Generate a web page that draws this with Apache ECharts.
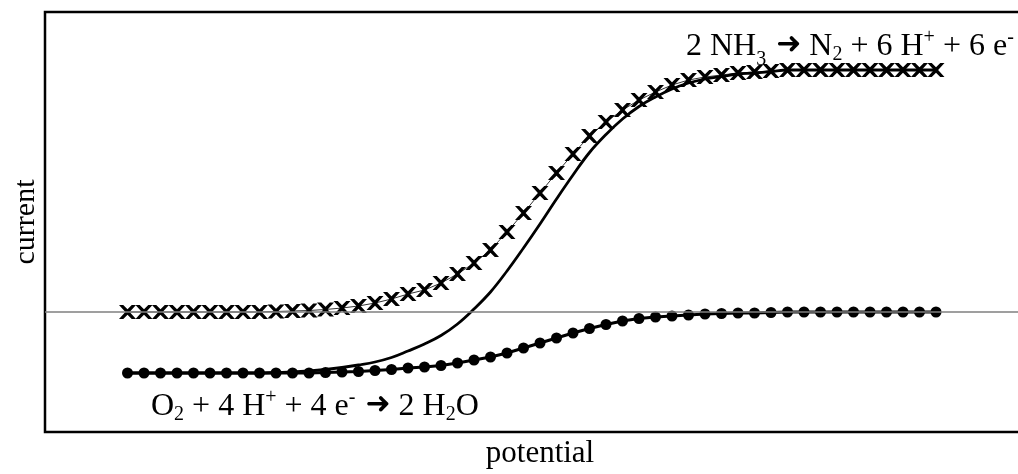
<!DOCTYPE html>
<html>
<head>
<meta charset="utf-8">
<script src="https://cdn.jsdelivr.net/npm/echarts@6/dist/echarts.min.js"></script>
<style>
  html, body { margin: 0; padding: 0; background: #fff; }
  #chart { width: 1018px; height: 474px; }
</style>
</head>
<body>
<div id="chart"></div>
<script>
// anodic wave (crosses): 2 NH3 -> N2 + 6 H+ + 6 e-
const anodic = [
  0, 0, 0, 0, 0, 0, 0, 0, 0, 0.005,
  0.01, 0.015, 0.025, 0.04, 0.06, 0.09, 0.13, 0.18, 0.22, 0.29,
  0.38, 0.49, 0.62, 0.80, 0.99, 1.19, 1.39, 1.58, 1.76, 1.90,
  2.02, 2.12, 2.20, 2.27, 2.32, 2.35, 2.37, 2.39, 2.40, 2.41,
  2.42, 2.42, 2.42, 2.42, 2.42, 2.42, 2.42, 2.42, 2.42, 2.42
];
// cathodic wave (dots): O2 + 4 H+ + 4 e- -> 2 H2O
const cathodic = [
  -0.61, -0.61, -0.61, -0.61, -0.61, -0.61, -0.61, -0.61, -0.61, -0.61,
  -0.61, -0.61, -0.605, -0.60, -0.595, -0.585, -0.575, -0.56, -0.55, -0.535,
  -0.51, -0.48, -0.45, -0.41, -0.36, -0.31, -0.26, -0.21, -0.165, -0.125,
  -0.09, -0.065, -0.05, -0.04, -0.03, -0.02, -0.015, -0.01, -0.01, -0.005,
  0, 0, 0, 0, 0, 0, 0, 0, 0, 0
];
// measured (mixed) current, solid line
const measured = [
  -0.61, -0.61, -0.61, -0.61, -0.61, -0.61, -0.61, -0.61, -0.61, -0.605,
  -0.60, -0.59, -0.575, -0.555, -0.53, -0.50, -0.455, -0.39, -0.32, -0.235,
  -0.12, 0.03, 0.20, 0.41, 0.64, 0.88, 1.13, 1.37, 1.595, 1.775,
  1.93, 2.055, 2.15, 2.23, 2.29, 2.33, 2.355, 2.38, 2.39, 2.405,
  2.42, 2.42, 2.42, 2.42, 2.42, 2.42, 2.42, 2.42, 2.42, 2.42
];

const serif = '"Liberation Serif", "DejaVu Serif", serif';
const crossPath = 'path://M0,0 L4,0 L8,4 L12,0 L16,0 L10,6.5 L16,13 L12,13 L8,9 L4,13 L0,13 L6,6.5 Z';

const richStyles = {
  b: { fontFamily: serif, fontSize: 32, lineHeight: 40, color: '#000' },
  sub: { fontFamily: serif, fontSize: 20, lineHeight: 20, padding: [15, 0, 0, 0], color: '#000' },
  sub3: { fontFamily: serif, fontSize: 20, lineHeight: 20, padding: [25, 0, 0, 0], color: '#000' },
  sup: { fontFamily: serif, fontSize: 20, lineHeight: 20, padding: [0, 0, 19, 0], color: '#000' },
  arr: { fontFamily: '"DejaVu Sans", sans-serif', fontSize: 30, lineHeight: 30, padding: [0, 0, 4, 2], color: '#000' }
};

const chart = echarts.init(document.getElementById('chart'));
const option = {
  animation: false,
  grid: {
    left: 45, right: -17, top: 12, bottom: 42,
    outerBoundsMode: 'none',
    show: true, borderColor: '#000', borderWidth: 2.5
  },
  xAxis: {
    type: 'value', min: -5, max: 55,
    name: 'potential', nameLocation: 'middle', nameGap: 6,
    nameTextStyle: { fontFamily: serif, fontSize: 31, color: '#000' },
    axisLine: { show: false }, axisTick: { show: false },
    axisLabel: { show: false }, splitLine: { show: false }
  },
  yAxis: {
    type: 'value', min: -1.2, max: 3.0,
    name: 'current', nameLocation: 'middle', nameGap: 4, nameRotate: 90,
    nameTextStyle: { fontFamily: serif, fontSize: 30, color: '#000' },
    axisLine: { show: false }, axisTick: { show: false },
    axisLabel: { show: false }, splitLine: { show: false }
  },
  graphic: [
    {
      type: 'text', x: 686, y: 47,
      style: {
        text: '{b|2 NH}{sub3|3}{b| }{arr|➜}{b| N}{sub|2}{b| + 6 H}{sup|+}{b| + 6 e}{sup|-}',
        rich: richStyles, verticalAlign: 'middle', align: 'left'
      }
    },
    {
      type: 'text', x: 151, y: 407,
      style: {
        text: '{b|O}{sub|2}{b| + 4 H}{sup|+}{b| + 4 e}{sup|-}{b| }{arr|➜}{b| 2 H}{sub|2}{b|O}',
        rich: richStyles, verticalAlign: 'middle', align: 'left'
      }
    }
  ],
  series: [
    {
      type: 'line',
      data: anodic.map((v, i) => [i, v]),
      symbol: crossPath, symbolSize: [17, 14],
      itemStyle: { color: '#000' },
      lineStyle: { color: '#333', width: 1 },
      markLine: {
        silent: true, symbol: 'none', animation: false,
        label: { show: false },
        lineStyle: { color: '#7f7f7f', width: 1.5, type: 'solid' },
        data: [{ yAxis: 0 }]
      }
    },
    {
      type: 'line',
      data: cathodic.map((v, i) => [i, v]),
      symbol: 'circle', symbolSize: 11,
      itemStyle: { color: '#000' },
      lineStyle: { color: '#000', width: 3 }
    },
    {
      type: 'line',
      data: measured.map((v, i) => [i, v]),
      showSymbol: false, smooth: 0.4,
      lineStyle: { color: '#000', width: 2.8 }
    }
  ]
};
chart.setOption(option);
</script>
</body>
</html>
